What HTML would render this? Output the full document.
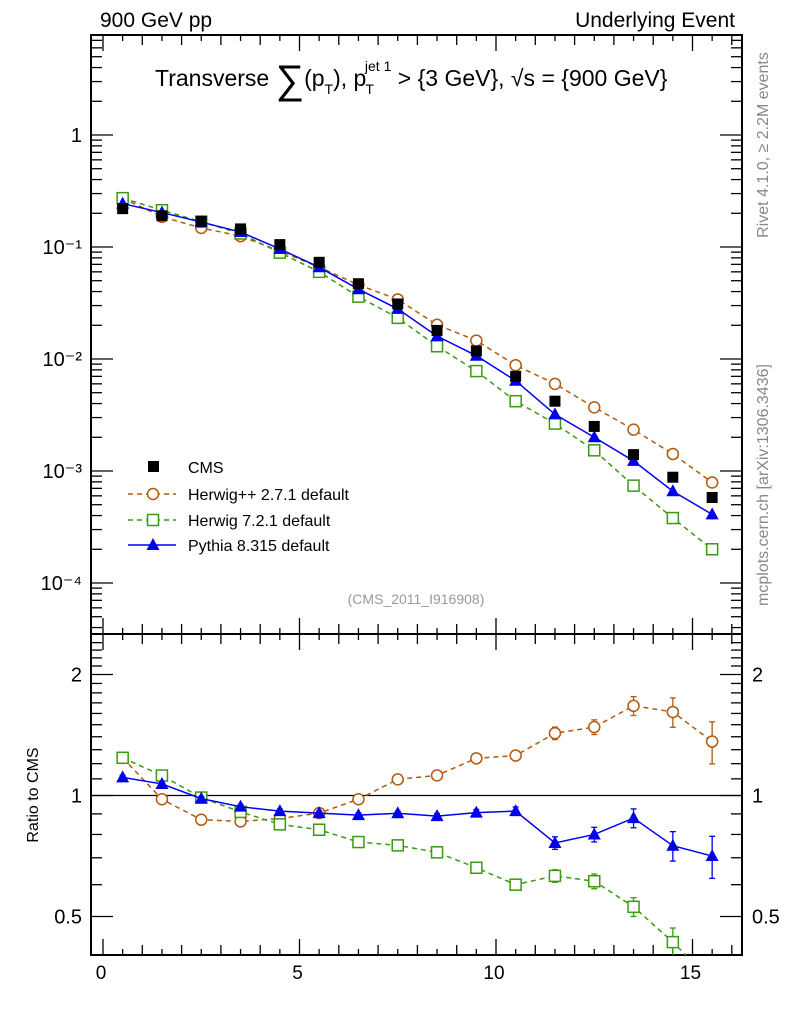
<!DOCTYPE html>
<html><head><meta charset="utf-8"><style>
body{margin:0;background:#fff;width:786px;height:1024px;overflow:hidden;font-family:"Liberation Sans",sans-serif}
</style></head><body>
<svg id="c" width="786" height="1024" xmlns="http://www.w3.org/2000/svg" font-family="Liberation Sans, sans-serif"></svg>
<script>
const xs=[0.5,1.5,2.5,3.5,4.5,5.5,6.5,7.5,8.5,9.5,10.5,11.5,12.5,13.5,14.5,15.5];
const cms=[0.22,0.19,0.17,0.145,0.105,0.073,0.047,0.031,0.018,0.0118,0.0070,0.0042,0.0025,0.0014,0.00088,0.00058];
const herwigpp=[0.273,0.186,0.148,0.125,0.092,0.066,0.046,0.034,0.0202,0.0146,0.0088,0.0060,0.0037,0.00234,0.00142,0.00079];
const herwig7=[0.273,0.213,0.168,0.132,0.089,0.060,0.036,0.0233,0.013,0.0078,0.0042,0.00265,0.00153,0.00074,0.00038,0.0002];
const pythia=[0.244,0.203,0.167,0.136,0.096,0.066,0.042,0.028,0.016,0.0107,0.0064,0.0032,0.0020,0.00123,0.00066,0.00041];
const relErr=[0.01,0.01,0.01,0.01,0.01,0.01,0.01,0.01,0.012,0.015,0.02,0.03,0.035,0.045,0.07,0.1];
const xTicks=[0,5,10,15];
const yTicks=[1,0.1,0.01,0.001,0.0001];
const yTickLabels=["1","10⁻¹","10⁻²","10⁻³","10⁻⁴"];
const rTicks=[0.5,1,2];

const svg=document.getElementById('c');const NS='http://www.w3.org/2000/svg';
function el(t,a,p){const e=document.createElementNS(NS,t);for(const k in a)e.setAttribute(k,a[k]);(p||svg).appendChild(e);return e;}
const L=91,R=742,T=35,M=634,B=955;
const X=v=>103+v*39.3;
const Y=v=>135-Math.log10(v)*112;
const RY=v=>795.5-Math.log10(v)*402;
let f=el('rect',{x:L,y:T,width:R-L,height:M-T,fill:'none',stroke:'#000','stroke-width':2});

f=el('rect',{x:L,y:M,width:R-L,height:B-M,fill:'none',stroke:'#000','stroke-width':2});

for(let v=0;v<=16;v+=0.5){const maj=v%5===0;const len=maj?16:(v%1===0?10:6);
 for(const [y0,d] of [[T,1],[M,-1],[M,1],[B,-1]]){el('line',{x1:X(v),x2:X(v),y1:y0,y2:y0+d*len,stroke:'#000','stroke-width':1.3});}}
xTicks.forEach(v=>{const t=el('text',{x:X(v)-2,y:979,'font-size':19,'text-anchor':'middle'});t.textContent=v;
});
for(let d=-5;d<=0;d++){for(let m=1;m<10;m++){const v=m*Math.pow(10,d);const y=Y(v);if(y<T||y>M)continue;const len=m===1?22:11;
 el('line',{x1:L,x2:L+len,y1:y,y2:y,stroke:'#000','stroke-width':1.3});el('line',{x1:R,x2:R-len,y1:y,y2:y,stroke:'#000','stroke-width':1.3});}}
yTicks.forEach((v,i)=>{const t=el('text',{x:82,y:Y(v)+7,'font-size':20,'text-anchor':'end'});t.textContent=yTickLabels[i];
});
for(let v=0.4;v<=2.5;v+=0.1){const y=RY(v);if(y<M||y>B)continue;const maj=[0.5,1,2].some(q=>Math.abs(q-v)<1e-6);const len=maj?22:11;
 el('line',{x1:L,x2:L+len,y1:y,y2:y,stroke:'#000','stroke-width':1.3});el('line',{x1:R,x2:R-len,y1:y,y2:y,stroke:'#000','stroke-width':1.3});}
rTicks.forEach(v=>{let t=el('text',{x:82,y:RY(v)+7,'font-size':20,'text-anchor':'end'});t.textContent=v;

t=el('text',{x:752,y:RY(v)+7,'font-size':20});t.textContent=v;
});
el('line',{x1:L,x2:R,y1:RY(1),y2:RY(1),stroke:'#000','stroke-width':1.3});
const series=[
 {d:herwigpp,c:'#b25a0f',m:'circ',dash:'5,4',name:'herwigpp'},
 {d:herwig7,c:'#3a9a10',m:'sq',dash:'5,4',name:'herwig7'},
 {d:pythia,c:'#0000ee',m:'tri',dash:'',name:'pythia'}];
function marker(g,m,c,x,y){
 if(m==='circ')el('circle',{cx:x,cy:y,r:5.5,fill:'#fff',stroke:c,'stroke-width':1.5},g);
 else if(m==='sq')el('rect',{x:x-5.5,y:y-5.5,width:11,height:11,fill:'#fff',stroke:c,'stroke-width':1.5},g);
 else el('polygon',{points:`${x},${y-7} ${x-6.5},${y+5} ${x+6.5},${y+5}`,fill:c},g);}
const clipM=el('clipPath',{id:'cm'});el('rect',{x:L,y:T,width:R-L,height:M-T},clipM);
const clipR=el('clipPath',{id:'cr'});el('rect',{x:L,y:M,width:R-L,height:B-M},clipR);
series.forEach(s=>{
 const g=el('g',{'clip-path':'url(#cm)'});
 el('polyline',{points:xs.map((x,i)=>X(x)+','+Y(s.d[i])).join(' '),fill:'none',stroke:s.c,'stroke-width':1.5,'stroke-dasharray':s.dash},g);
 xs.forEach((x,i)=>{const e=relErr[i]*s.d[i];el('line',{x1:X(x),x2:X(x),y1:Y(s.d[i]+e),y2:Y(s.d[i]-e),stroke:s.c,'stroke-width':1.3},g);marker(g,s.m,s.c,X(x),Y(s.d[i]));});
 const gr=el('g',{'clip-path':'url(#cr)'});
 const r=s.d.map((v,i)=>v/cms[i]);
 el('polyline',{points:xs.map((x,i)=>X(x)+','+RY(r[i])).join(' '),fill:'none',stroke:s.c,'stroke-width':1.5,'stroke-dasharray':s.dash},gr);
 xs.forEach((x,i)=>{const e=relErr[i]*r[i]*1.2;el('line',{x1:X(x),x2:X(x),y1:RY(r[i]+e),y2:RY(r[i]-e),stroke:s.c,'stroke-width':1.3},gr);
  el('line',{x1:X(x)-3,x2:X(x)+3,y1:RY(r[i]+e),y2:RY(r[i]+e),stroke:s.c,'stroke-width':1.3},gr);
  el('line',{x1:X(x)-3,x2:X(x)+3,y1:RY(r[i]-e),y2:RY(r[i]-e),stroke:s.c,'stroke-width':1.3},gr);
  marker(gr,s.m,s.c,X(x),RY(r[i]));});
});
const gc=el('g',{});
xs.forEach((x,i)=>el('rect',{x:X(x)-5.5,y:Y(cms[i])-5.5,width:11,height:11,fill:'#000'},gc));
const lg=el('g',{});
el('rect',{x:148,y:461,width:11,height:11,fill:'#000'},lg);
let t=el('text',{x:188,y:473,'font-size':16},lg);t.textContent='CMS';
[['Herwig++ 2.7.1 default',series[0],494],['Herwig 7.2.1 default',series[1],520],['Pythia 8.315 default',series[2],545]].forEach(([n,s,y])=>{
 el('line',{x1:128,x2:176,y1:y,y2:y,stroke:s.c,'stroke-width':1.5,'stroke-dasharray':s.dash},lg);marker(lg,s.m,s.c,153,y);
 const tt=el('text',{x:188,y:y+6,'font-size':16},lg);tt.textContent=n;});
function txt(s,a,name){const e=el('text',a);e.textContent=s;return e;}
txt('900 GeV pp',{x:100,y:27,'font-size':21},'top-left-label');
txt('Underlying Event',{x:735,y:27,'font-size':21,'text-anchor':'end'},'top-right-label');
const ti=el('text',{x:155,y:86,'font-size':23});
ti.innerHTML='Transverse <tspan font-size="40" dy="7">∑</tspan><tspan dy="-7">(p</tspan><tspan font-size="14" dy="8">T</tspan><tspan dy="-8">), p</tspan><tspan font-size="14" dy="8" dx="-1">T</tspan><tspan font-size="14" dy="-23" dx="-9">jet 1</tspan><tspan dy="15"> &gt; {3 GeV}, √s = {900 GeV}</tspan>';
txt('(CMS_2011_I916908)',{x:416,y:604,'font-size':14,fill:'#999','text-anchor':'middle'},'analysis-id');
txt('Ratio to CMS',{x:0,y:0,'font-size':16,'text-anchor':'middle',transform:'translate(38,795) rotate(-90)'},'ratio-y-title');
txt('Rivet 4.1.0, ≥ 2.2M events',{x:0,y:0,'font-size':16,fill:'#888','text-anchor':'middle',transform:'translate(768,145) rotate(-90)'},'rivet-label');
txt('mcplots.cern.ch [arXiv:1306.3436]',{x:0,y:0,'font-size':16,fill:'#888','text-anchor':'middle',transform:'translate(768,485) rotate(-90)'},'mcplots-label');
</script>
</body></html>
